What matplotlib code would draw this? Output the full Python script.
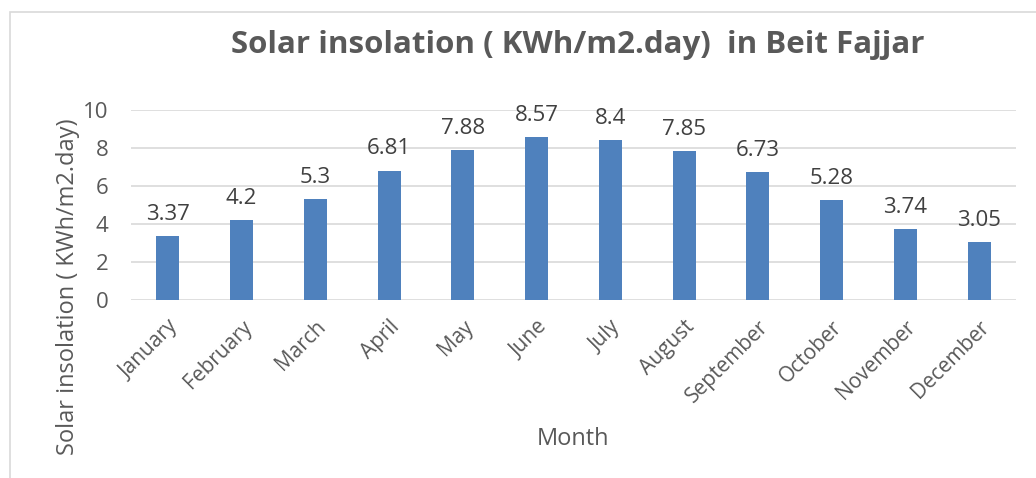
import matplotlib.pyplot as plt
from matplotlib.patches import Rectangle

months = ['January', 'February', 'March', 'April', 'May', 'June', 'July',
          'August', 'September', 'October', 'November', 'December']
insolation = [3.37, 4.2, 5.3, 6.81, 7.88, 8.57, 8.4, 7.85, 6.73, 5.28, 3.74, 3.05]
labels = ['3.37', '4.2', '5.3', '6.81', '7.88', '8.57', '8.4', '7.85', '6.73', '5.28', '3.74', '3.05']

plt.rcParams['font.family'] = ['Open Sans', 'DejaVu Sans']
txt = '#595959'

fig = plt.figure(figsize=(10.36, 4.78), dpi=100)
# chart border
fig.patches.append(Rectangle((10 / 1036, -0.1), 1.2, 1.1 - 12 / 478, transform=fig.transFigure,
                             fill=False, edgecolor='#D9D9D9', linewidth=1.2))

ax = fig.add_axes([0.1264, 0.3724, 0.8543, 0.3975])
x = range(len(months))
bars = ax.bar(x, insolation, width=0.31, color='#4F81BD', zorder=3)
for b, lab in zip(bars, labels):
    ax.annotate(lab, (b.get_x() + b.get_width() / 2, b.get_height()), xytext=(0, 8),
                textcoords='offset points', ha='center', va='bottom', fontsize=16, color='#404040')

ax.set_xlim(-0.5, len(months) - 0.5)
ax.set_ylim(0, 10)
ax.set_yticks(range(0, 11, 2))
ax.grid(axis='y', color='#D9D9D9', linewidth=1.2, zorder=0)
for s in ax.spines.values():
    s.set_visible(False)
ax.tick_params(axis='y', length=0, labelsize=16, colors=txt, pad=16)
ax.set_xticks(list(x))
ax.set_xticklabels(months, rotation=45, ha='right', rotation_mode='anchor', fontsize=15)
ax.tick_params(axis='x', length=0, colors=txt, pad=12)

ax.set_xlabel('Month', fontsize=17, color=txt)
ax.xaxis.set_label_coords(0.5, -0.67)
ax.set_ylabel('Solar insolation ( KWh/m2.day)', fontsize=17, color=txt, va='center')
ax.yaxis.set_label_coords(-0.071, 0.068)
fig.text(0.558, 0.905, 'Solar insolation ( KWh/m2.day)  in Beit Fajjar', ha='center', va='center',
         fontsize=22.5, fontweight='bold', color=txt)

fig.savefig('out.png', dpi=100)
